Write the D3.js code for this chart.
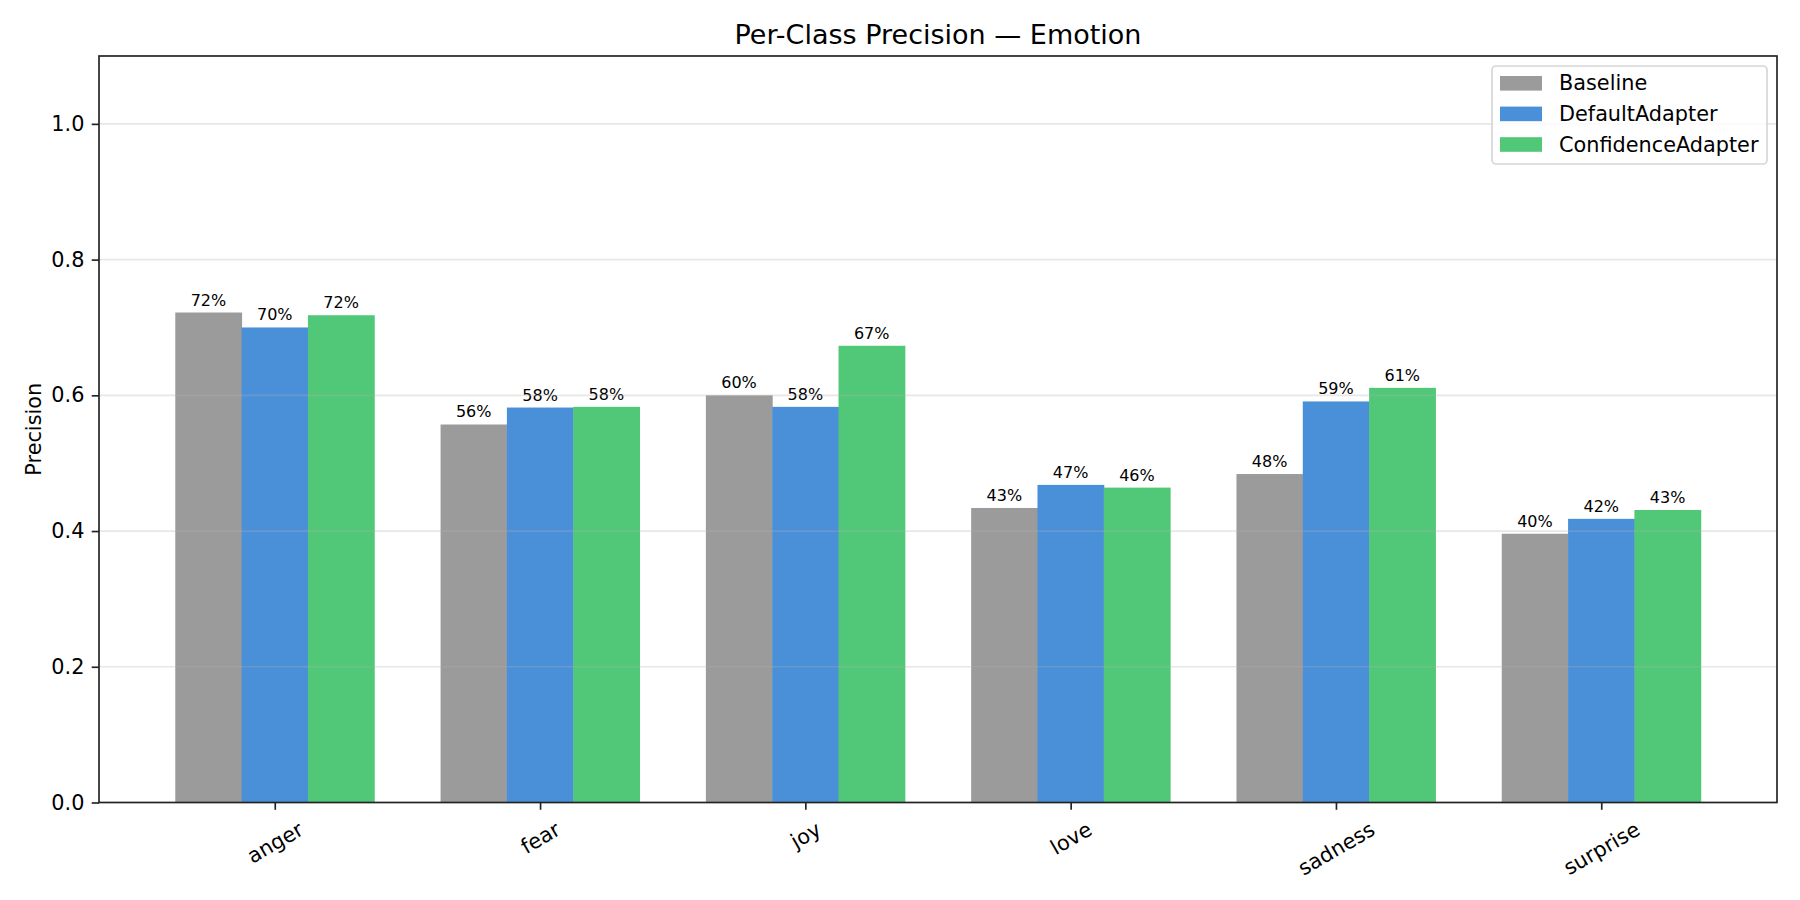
<!DOCTYPE html>
<html>
<head>
<meta charset="utf-8">
<script src="https://cdn.jsdelivr.net/npm/d3@7"></script>
<style>
  body { margin: 0; background: #fff; }
  svg text { font-family: "DejaVu Sans", sans-serif; fill: #000; }
</style>
</head>
<body>
<div id="chart"></div>
<script>
// chart data
const categories = ["anger", "fear", "joy", "love", "sadness", "surprise"];
const seriesNames = ["Baseline", "DefaultAdapter", "ConfidenceAdapter"];
const baseline = [0.722, 0.557, 0.600, 0.434, 0.484, 0.396];
const defaultAdapter = [0.700, 0.582, 0.583, 0.468, 0.591, 0.418];
const confidenceAdapter = [0.718, 0.583, 0.673, 0.464, 0.611, 0.431];
const yTicks = [0.0, 0.2, 0.4, 0.6, 0.8, 1.0];
const colors = ["#9b9b9b", "#4a90d9", "#50c878"];

const seriesValues = [baseline, defaultAdapter, confidenceAdapter];

const width = 1800, height = 900;
const margin = { top: 56, right: 23, bottom: 97.5, left: 99 };
const innerW = width - margin.left - margin.right;
const innerH = height - margin.top - margin.bottom;
const barW = 0.25;

const svg = d3.select("#chart").append("svg")
  .attr("width", width)
  .attr("height", height);

const chart = svg.append("g")
  .attr("transform", `translate(${margin.left},${margin.top})`);

// x is numeric like matplotlib: group i at x=i, 5% padding
const xScale = d3.scaleLinear()
  .domain([-0.6625, categories.length - 1 + 0.6625])
  .range([0, innerW]);

const yScale = d3.scaleLinear()
  .domain([0, 1.1])
  .range([innerH, 0]);

// bars
seriesValues.forEach((vals, s) => {
  const offset = (s - 1) * barW;
  chart.selectAll(`.bar-s${s}`)
    .data(vals)
    .join("rect")
    .attr("class", `bar-s${s}`)
    .attr("x", (d, i) => xScale(i + offset - barW / 2))
    .attr("width", xScale(barW) - xScale(0) + 0.5)
    .attr("y", d => yScale(d))
    .attr("height", d => innerH - yScale(d))
    .attr("fill", colors[s]);

  chart.selectAll(`.lbl-s${s}`)
    .data(vals)
    .join("text")
    .attr("class", `lbl-s${s}`)
    .attr("x", (d, i) => xScale(i + offset))
    .attr("y", d => yScale(d) - 7)
    .attr("text-anchor", "middle")
    .attr("font-size", "16px")
    .text(d => `${Math.round(d * 100)}%`);
});

// grid on top of bars, like the reference
chart.append("g")
  .selectAll("line")
  .data(yTicks)
  .join("line")
  .attr("x1", 0)
  .attr("x2", innerW)
  .attr("y1", d => yScale(d))
  .attr("y2", d => yScale(d))
  .attr("stroke", "#b0b0b0")
  .attr("stroke-opacity", 0.3)
  .attr("stroke-width", 1.67);

// y axis
const yAxis = d3.axisLeft(yScale)
  .tickValues(yTicks)
  .tickFormat(d3.format(".1f"))
  .tickSize(7.3)
  .tickPadding(7.3);

const yAxisG = chart.append("g").call(yAxis);
yAxisG.select(".domain").remove();
yAxisG.selectAll("line").attr("stroke", "#222").attr("stroke-width", 1.67);
yAxisG.selectAll("text")
  .attr("font-size", "20.8px")
  .attr("font-family", "DejaVu Sans, sans-serif")
  .attr("fill", "#000");

// x axis, ticks at group centers
const xAxis = d3.axisBottom(xScale)
  .tickValues(d3.range(categories.length))
  .tickFormat(i => categories[i])
  .tickSize(7.3)
  .tickPadding(0);

const xAxisG = chart.append("g")
  .attr("transform", `translate(0,${innerH})`)
  .call(xAxis);
xAxisG.select(".domain").remove();
xAxisG.selectAll("line").attr("stroke", "#222").attr("stroke-width", 1.67);

// rotated tick labels, bounding box centered under tick
xAxisG.selectAll(".tick text")
  .attr("font-size", "20.8px")
  .attr("font-family", "DejaVu Sans, sans-serif")
  .attr("fill", "#000")
  .attr("text-anchor", "middle")
  .attr("dy", null)
  .attr("y", 0)
  .attr("dominant-baseline", "central")
  .each(function() {
    const w = this.getComputedTextLength();
    const h = 20.8 * 1.17;
    const a = Math.PI / 6;
    const rotH = w * Math.sin(a) + h * Math.cos(a);
    const top = 7.3 + 7.3;
    d3.select(this).attr("transform", `translate(0,${top + rotH / 2}) rotate(-30)`);
  });

// frame
chart.append("rect")
  .attr("x", 0)
  .attr("y", 0)
  .attr("width", innerW)
  .attr("height", innerH)
  .attr("fill", "none")
  .attr("stroke", "#222")
  .attr("stroke-width", 1.67);

// title
svg.append("text")
  .attr("x", margin.left + innerW / 2)
  .attr("y", 44)
  .attr("text-anchor", "middle")
  .attr("font-size", "27px")
  .text("Per-Class Precision — Emotion");

// y label
svg.append("text")
  .attr("transform", `translate(41,${margin.top + innerH / 2}) rotate(-90)`)
  .attr("text-anchor", "middle")
  .attr("font-size", "20.8px")
  .text("Precision");

// legend
const legend = svg.append("g")
  .attr("transform", "translate(1492,66)");

legend.append("rect")
  .attr("width", 275)
  .attr("height", 98)
  .attr("rx", 4)
  .attr("fill", "#fff")
  .attr("fill-opacity", 0.8)
  .attr("stroke", "#d6d6d6")
  .attr("stroke-width", 1.67);

seriesNames.forEach((name, s) => {
  const cy = 17.3 + s * 30.6;
  legend.append("rect")
    .attr("x", 8)
    .attr("y", cy - 7.3)
    .attr("width", 42)
    .attr("height", 14.6)
    .attr("fill", colors[s]);
  legend.append("text")
    .attr("x", 67)
    .attr("y", cy)
    .attr("dominant-baseline", "central")
    .attr("font-size", "20.8px")
    .text(name);
});
</script>
</body>
</html>
